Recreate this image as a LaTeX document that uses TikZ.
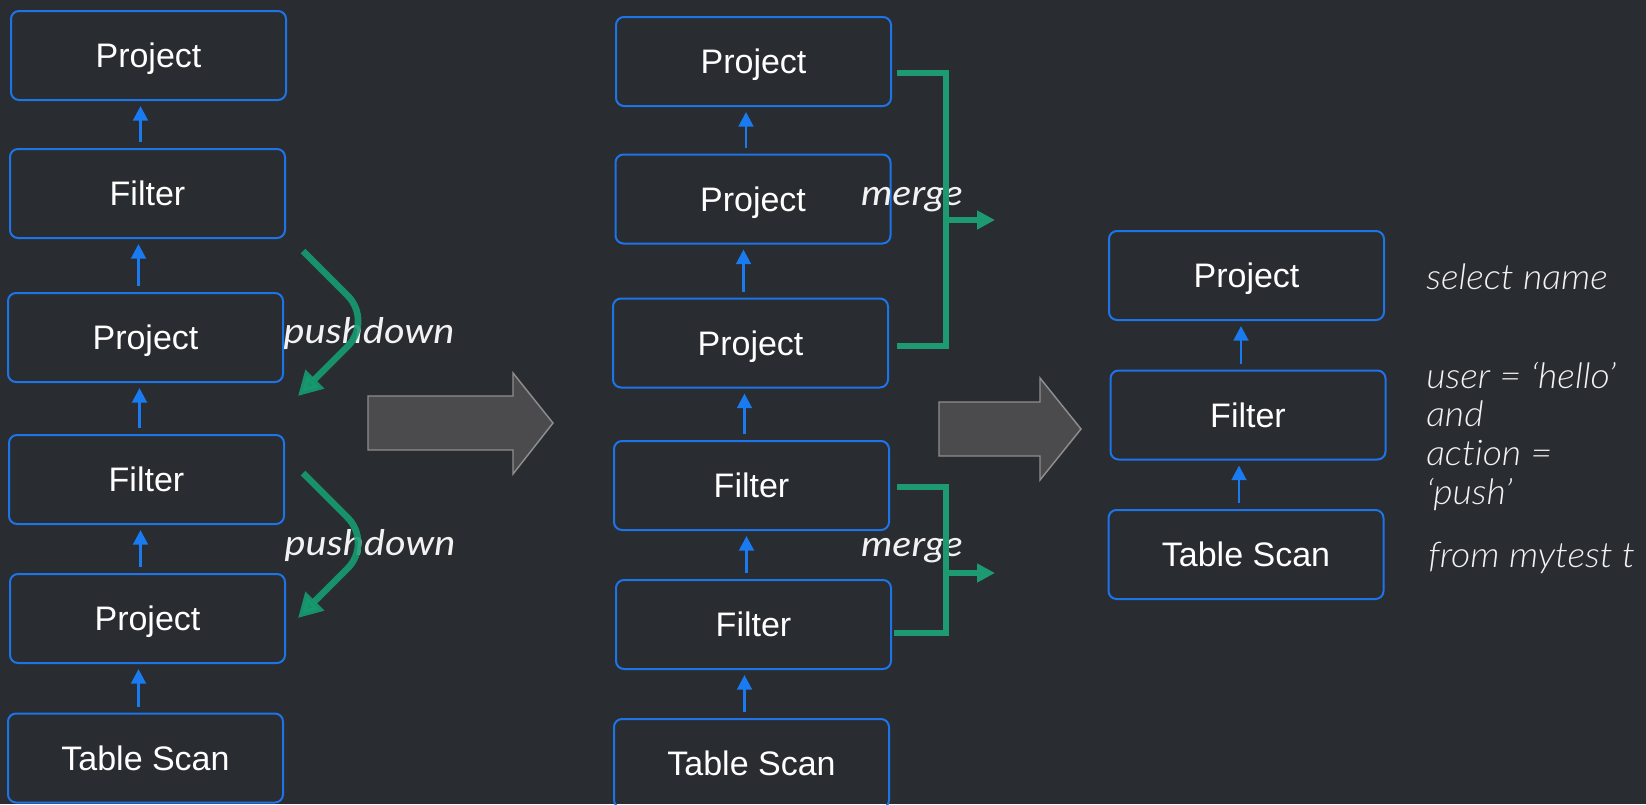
\documentclass[tikz,border=0pt]{standalone}
\usepackage{fontspec}
\setmainfont{Liberation Sans}
% thin italic for the SQL fragments, regular italic for the step labels
\IfFontExistsTF{Lato Light Italic}{%
  \newfontfamily\notefont{Lato Light}[ItalicFont={Lato Light Italic},
    FakeStretch=1.06, Ligatures=NoCommon]
}{%
  \newfontfamily\notefont{Lato}[FakeStretch=1.06, Ligatures=NoCommon]
}
\newfontfamily\stepfont{Lato}[FakeStretch=1.13, Ligatures=NoCommon]
\usetikzlibrary{arrows.meta}

\definecolor{bgdark}{HTML}{292C31}
\definecolor{boxblue}{HTML}{1D74E8}
\definecolor{flowblue}{HTML}{1A7AF0}
\definecolor{mergegreen}{HTML}{1E9A72}
\definecolor{pushgreen}{HTML}{179B70}
\definecolor{bigfill}{HTML}{4B4B4D}
\definecolor{bigedge}{HTML}{8E8E8E}
\definecolor{notewhite}{HTML}{F2F2F2}

\tikzset{
  opbox/.style={draw=boxblue, line width=1.5pt, rounded corners=6pt,
    minimum width=206.25pt, minimum height=66.75pt, inner sep=0pt,
    text=white, font=\fontsize{25.5}{30}\selectfont,
    text height=18.3pt, text depth=0pt},
  flow/.style={draw=flowblue, line width=2.2pt,
    -{Triangle[length=11pt,width=11pt]},
    shorten <=4.5pt, shorten >=3.75pt},
  pushline/.style={draw=pushgreen, line width=5pt, opacity=0.9,
    rounded corners=27pt, -{Triangle[length=18pt,width=19pt]}},
  mergeline/.style={draw=mergegreen, line width=4pt},
  mergearrow/.style={draw=mergegreen, line width=4pt,
    -{Triangle[length=13.5pt,width=13.5pt]}},
  bigarrow/.style={fill=bigfill, draw=bigedge, line width=1.1pt},
  notetext/.style={text=notewhite, inner sep=0pt,
    font=\notefont\itshape\fontsize{26.5}{29}\selectfont},
  steptext/.style={text=notewhite, inner sep=0pt,
    font=\stepfont\itshape\fontsize{26.5}{29}\selectfont},
}

\begin{document}
\begin{tikzpicture}[x=0.75pt,y=-0.75pt]
  % canvas
  \fill[bgdark] (0,0) rectangle (1646,804);
  \clip (0,0) rectangle (1646,804);

  % left plan
  \node[opbox] (L1) at (148.5,55.5)  {Project};
  \node[opbox] (L2) at (147.5,193.5) {Filter};
  \node[opbox] (L3) at (145.5,337.5) {Project};
  \node[opbox] (L4) at (146.5,479.5) {Filter};
  \node[opbox] (L5) at (147.5,618.5) {Project};
  \node[opbox] (L6) at (145.5,758)   {Table Scan};
  \foreach \lo/\hi in {L2/L1,L3/L2,L4/L3,L5/L4,L6/L5}
    \draw[flow] ([xshift=-5.25pt]\lo.north)
      -- ([xshift=-5.25pt]\lo.north |- \hi.south);

  % pushdown moves
  \node[steptext, anchor=base] (pdl1) at (369,343) {pushdown};
  \node[steptext, anchor=base] (pdl2) at (370,555) {pushdown};
  \coordinate (pd1s) at (303,251);
  \coordinate (pd1e) at (298,396);
  \coordinate (pd2s) at (303,473);
  \coordinate (pd2e) at (298,618);
  \draw[pushline] (pd1s) -- (373,321) -- (pd1e);
  \draw[pushline] (pd2s) -- (373,543) -- (pd2e);

  % transition arrows
  \path[bigarrow] (368,396) -- (513,396) -- (513,373) -- (553,423)
    -- (513,474) -- (513,450) -- (368,450) -- cycle;
  \path[bigarrow] (939,402) -- (1040,402) -- (1040,378) -- (1081,429)
    -- (1040,480) -- (1040,456) -- (939,456) -- cycle;

  % middle plan
  \node[opbox] (M1) at (753.5,61.5)  {Project};
  \node[opbox] (M2) at (753,199)     {Project};
  \node[opbox] (M3) at (750.5,343)   {Project};
  \node[opbox] (M4) at (751.5,485.5) {Filter};
  \node[opbox] (M5) at (753.5,624.5) {Filter};
  \node[opbox] (M6) at (751.5,763.5) {Table Scan};
  \foreach \lo/\hi in {M2/M1,M3/M2,M4/M3,M5/M4,M6/M5}
    \draw[flow] ([xshift=-5.25pt]\lo.north)
      -- ([xshift=-5.25pt]\lo.north |- \hi.south);

  % merge brackets
  \node[steptext, anchor=base] (mgl1) at (912,205) {merge};
  \node[steptext, anchor=base] (mgl2) at (912,556) {merge};
  \coordinate (mg1) at (946,220);
  \coordinate (mg1t) at (995,220);
  \coordinate (mg2) at (946,573);
  \coordinate (mg2t) at (995,573);
  \draw[mergeline] ([shift={(5,11.5)}]M1.east) -| (mg1) |- ([shift={(8,3)}]M3.east);
  \draw[mergearrow] (mg1) -- (mg1t);
  \draw[mergeline] ([shift={(7,1.5)}]M4.east) -| (mg2) |- ([shift={(2,8.5)}]M5.east);
  \draw[mergearrow] (mg2) -- (mg2t);

  % merged plan
  \node[opbox] (R1) at (1246.5,275.5) {Project};
  \node[opbox] (R2) at (1248,415)     {Filter};
  \node[opbox] (R3) at (1246,554.5)   {Table Scan};
  \foreach \lo/\hi in {R2/R1,R3/R2}
    \draw[flow] ([xshift=-5.25pt]\lo.north)
      -- ([xshift=-5.25pt]\lo.north |- \hi.south);

  % SQL fragments (the multi-line one is placed by its last baseline)
  \node[notetext, anchor=base west] (sq1) at (1426,289) {select name};
  \node[notetext, anchor=base west, align=left] (sq2) at (1426,504)
    {user = ‘hello’\\and\\action =\\‘push’};
  \node[notetext, anchor=base west] (sq3) at (1428,567) {from mytest t};
\end{tikzpicture}
\end{document}
